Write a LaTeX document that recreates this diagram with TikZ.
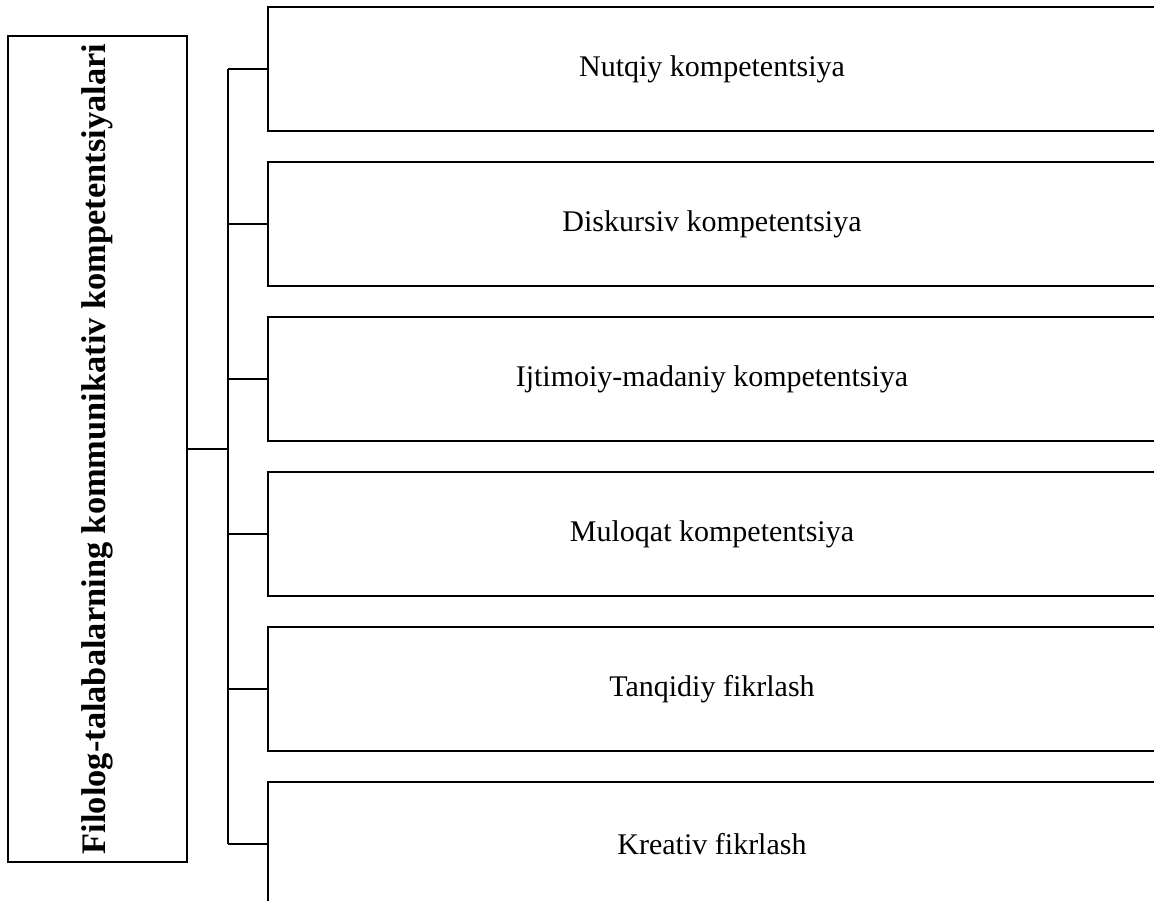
\documentclass[tikz,border=0pt]{standalone}
\usepackage{fontspec}
\setmainfont{Liberation Serif}
\usepackage{tikz}
\usetikzlibrary{positioning}
\tikzstyle{comp_box} = [draw, line width = 2.4, minimum width = 888, minimum height = 124, inner sep = 0, font = \fontsize{30}{36}\selectfont]
\tikzstyle{title_box} = [draw, line width = 2.4, minimum width = 179, minimum height = 826, inner sep = 0]
\tikzstyle{branch_line} = [line width = 2.4]

\begin{document}
\begin{tikzpicture}[x = 1pt, y = -1pt]
        \clip (0, 0) rectangle (1154, 901);
        \node [style = {title_box}] (title) at (97.5, 449) {};
        \node [rotate = 90, font = \fontsize{34.4}{40}\selectfont\bfseries] (title_text) at (title.center) {Filolog-talabalarning kommunikativ kompetentsiyalari};
        \coordinate (hub) at (228, 449);
        \draw [style = {branch_line}] (title.east) -- (hub);
        \foreach \name/\y/\label in {nutq/69/Nutqiy kompetentsiya, disk/224/Diskursiv kompetentsiya, ijt/379/Ijtimoiy-madaniy kompetentsiya, mul/534/Muloqat kompetentsiya, tanq/689/Tanqidiy fikrlash, krea/844/Kreativ fikrlash} {
            \node [style = {comp_box}] (\name) at (712, \y) {\label};
            \coordinate (\name_fork) at (hub |- \name.west);
            \draw [style = {branch_line}] (\name_fork) -- (\name.west);
        }
        \draw [style = {branch_line}] (nutq_fork) -- (krea_fork);
    \end{tikzpicture}
\end{document}
